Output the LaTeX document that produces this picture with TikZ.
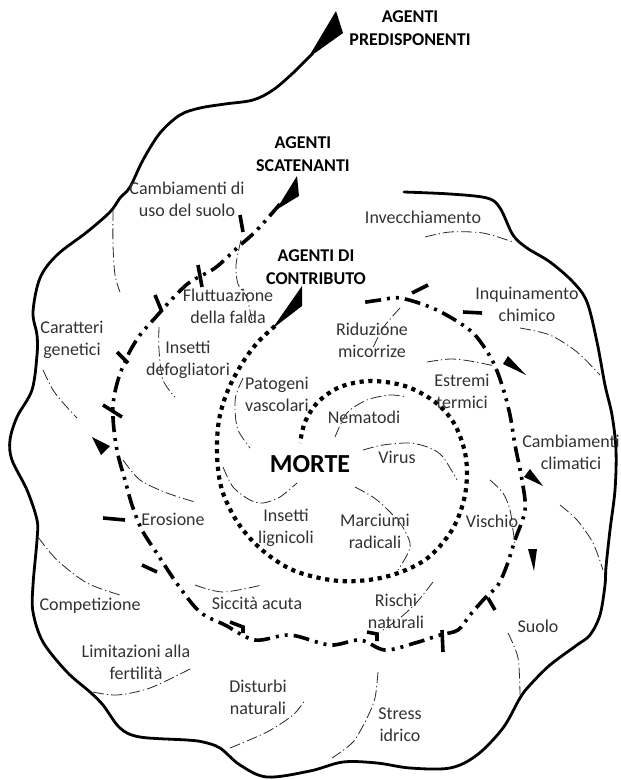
\documentclass[tikz,border=0pt]{standalone}
\usepackage{fontspec}
\setmainfont{Carlito}
\definecolor{txtgray}{RGB}{50,50,50}
\definecolor{linegray}{RGB}{40,40,40}
\begin{document}
\begin{tikzpicture}[x=1pt,y=-1pt,
  outer/.style={line width=2.8pt, line cap=round, line join=round},
  midline/.style={line width=3.6pt, dash pattern=on 16pt off 6pt on 3pt off 6pt on 3pt off 6pt},
  tickmark/.style={line width=3.6pt},
  dotline/.style={line width=4.2pt, dash pattern=on 4.2pt off 4.6pt},
  thinline/.style={line width=0.8pt, draw=linegray, dash pattern=on 11pt off 3pt on 1.3pt off 3pt},
  lbl/.style={font=\fontsize{18}{22}\selectfont, text=txtgray, align=center, inner sep=0pt},
  hd/.style={font=\fontsize{18}{23}\selectfont\bfseries, text=black, align=center, inner sep=0pt}]
\useasboundingbox (0,0) rectangle (621,780);

% outer solid spiral
\fill (336,11) -- (343,33) -- (308,58) -- cycle;
\draw[outer] plot[smooth, tension=0.55] coordinates {(313,53) (293,73) (273,90) (253,100) (225,104) (200,108) (180,115) (160,133) (143,160) (130,187) (120,198) (110,212) (87,232) (57,255) (40,278) (33,312) (37,335) (37,355) (32,390) (17,417) (10,440) (12,460) (27,490) (37,520) (37,540) (33,585) (33,612) (43,642) (67,672) (90,692) (103,705) (120,728) (140,737) (187,740) (203,742) (220,748) (240,765) (267,777) (310,771) (343,762) (377,763) (410,768) (450,768) (477,755) (503,728) (520,698) (530,685) (550,665) (577,645) (590,635) (600,615) (605,585) (606,567) (610,530) (615,490) (616,450) (612,415) (605,385) (597,342) (587,302) (573,282) (550,262) (527,248) (513,235) (500,208) (487,198) (450,194) (404,192)};

% middle dash-dot-dot spiral
\fill (297,176) -- (299,196) -- (276,210) -- cycle;
\draw[midline] plot[smooth, tension=0.55] coordinates {(280,204) (257,230) (237,248) (215,268) (190,282) (173,298) (155,318) (140,335) (128,355) (118,380) (113,405) (114,430) (118,455) (125,480) (132,505) (142,530) (158,555) (178,585) (200,612) (225,625) (255,640) (290,635) (330,645) (360,640) (385,650) (415,643) (440,635) (458,630) (470,615) (485,598) (498,585) (507,565) (515,540) (525,510) (522,480) (515,445) (510,415) (502,385) (492,360) (475,335) (455,320) (430,307) (400,298) (380,300) (360,303)};
\foreach \a/\b in {{(240,215)}/{(243,232)}, {(198,265)}/{(202,287)}, {(155,295)}/{(162,312)}, {(117,352)}/{(128,363)}, {(103,405)}/{(122,417)}, {(103,518)}/{(125,520)}, {(142,565)}/{(157,572)}, {(442,630)}/{(443,652)}, {(488,598)}/{(495,610)}, {(463,312)}/{(482,313)}, {(412,293)}/{(428,285)}}
  \draw[tickmark] \a -- \b;
\draw[tickmark] (230,622) -- (243,627) -- (243,633);
\draw[tickmark] (367,632) -- (377,634) -- (377,641);
\fill (92,437) -- (110,446) -- (101,455) -- cycle;
\fill (543,486) -- (530,469) -- (524,477) -- cycle;
\fill (534,571) -- (528,549) -- (537,549) -- cycle;
\fill (526,375) -- (508,356) -- (503,364) -- cycle;

% inner dotted spiral
\fill (302,286) -- (302,306) -- (272,329) -- cycle;
\draw[dotline] plot[smooth, tension=0.55] coordinates {(275,326) (258,342) (243,362) (228,390) (219,420) (217,455) (222,490) (238,523) (262,550) (295,571) (340,581) (385,577) (425,560) (452,530) (465,495) (466,458) (455,425) (435,402) (405,386) (370,381) (340,387) (318,402) (305,422) (300,443)};

% thin dash-dot lines
\draw[thinline] plot[smooth] coordinates {(113,210) (113,245) (115,275) (120,292)};
\draw[thinline] plot[smooth] coordinates {(241,240) (236,265) (238,284) (247,298) (252,322)};
\draw[thinline] plot[smooth] coordinates {(159,327) (159,350) (163,380) (175,397)};
\draw[thinline] plot[smooth] coordinates {(43,370) (53,390) (65,405) (77,418)};
\draw[thinline] plot[smooth] coordinates {(123,460) (140,480) (167,493) (195,502)};
\draw[thinline] plot[smooth] coordinates {(38,537) (57,560) (87,583) (120,595)};
\draw[thinline] plot[smooth] coordinates {(195,585) (223,592) (262,585)};
\draw[thinline] plot[smooth] coordinates {(93,692) (117,695) (150,688) (192,668)};
\draw[thinline] plot[smooth] coordinates {(230,748) (267,732) (293,715) (305,700)};
\draw[thinline] plot[smooth] coordinates {(378,672) (375,698) (367,718) (353,742) (332,758)};
\draw[thinline] plot[smooth] coordinates {(508,633) (518,658) (520,695)};
\draw[thinline] plot[smooth] coordinates {(433,582) (417,602) (400,618) (380,632)};
\draw[thinline] plot[smooth] coordinates {(355,487) (377,500) (400,523) (410,543) (407,555) (398,570)};
\draw[thinline] plot[smooth] coordinates {(363,450) (383,445) (410,443) (430,448) (443,457) (457,480)};
\draw[thinline] plot[smooth] coordinates {(335,437) (347,413) (367,400) (390,395) (407,397)};
\draw[thinline] plot[smooth] coordinates {(243,378) (236,395) (235,410) (238,430) (250,448)};
\draw[thinline] plot[smooth] coordinates {(223,467) (233,487) (250,500) (263,503) (280,497) (297,483)};
\draw[thinline] plot[smooth] coordinates {(400,308) (383,328) (372,350)};
\draw[thinline] plot[smooth] coordinates {(427,362) (450,359) (470,361) (495,366)};
\draw[thinline] plot[smooth] coordinates {(520,328) (550,335) (577,352) (600,375)};
\draw[thinline] plot[smooth] coordinates {(425,237) (450,232) (483,233) (513,242)};
\draw[thinline] plot[smooth] coordinates {(560,505) (577,520) (593,543) (603,570)};
\draw[thinline] plot[smooth] coordinates {(490,480) (503,493) (510,510) (513,530) (515,545)};

% headings
\node[hd] (hpred) at (410,28) {AGENTI\\PREDISPONENTI};
\node[hd] (hscat) at (303,154) {AGENTI\\SCATENANTI};
\node[hd] (hcontr) at (316,267) {AGENTI DI\\CONTRIBUTO};
\node[hd, font=\fontsize{26}{30}\selectfont\bfseries] (morte) at (310,464) {MORTE};

% labels
\node[lbl] (l1) at (187,199) {Cambiamenti di\\uso del suolo};
\node[lbl] (l2) at (423,217) {Invecchiamento};
\node[lbl] (l3) at (228,306) {Fluttuazione\\della falda};
\node[lbl] (l4) at (527,304) {Inquinamento\\chimico};
\node[lbl] (l5) at (72,340) {Caratteri\\genetici};
\node[lbl] (l6) at (188,360) {Insetti\\defogliatori};
\node[lbl] (l7) at (372,340) {Riduzione\\micorrize};
\node[lbl] (l8) at (462,391) {Estremi\\termici};
\node[lbl] (l9) at (277,394) {Patogeni\\vascolari};
\node[lbl] (l10) at (364,417) {Nematodi};
\node[lbl] (l11) at (571,452) {Cambiamenti\\climatici};
\node[lbl] (l12) at (397,457) {Virus};
\node[lbl] (l13) at (173,519) {Erosione};
\node[lbl] (l14) at (286,528) {Insetti\\lignicoli};
\node[lbl] (l15) at (375,531) {Marciumi\\radicali};
\node[lbl] (l16) at (492,521) {Vischio};
\node[lbl] (l17) at (90,606) {Competizione};
\node[lbl] (l18) at (257,603) {Siccità acuta};
\node[lbl] (l19) at (396,611) {Rischi\\naturali};
\node[lbl] (l20) at (538,626) {Suolo};
\node[lbl] (l21) at (136,662) {Limitazioni alla\\fertilità};
\node[lbl] (l22) at (258,697) {Disturbi\\naturali};
\node[lbl] (l23) at (400,725) {Stress\\idrico};
\end{tikzpicture}
\end{document}
